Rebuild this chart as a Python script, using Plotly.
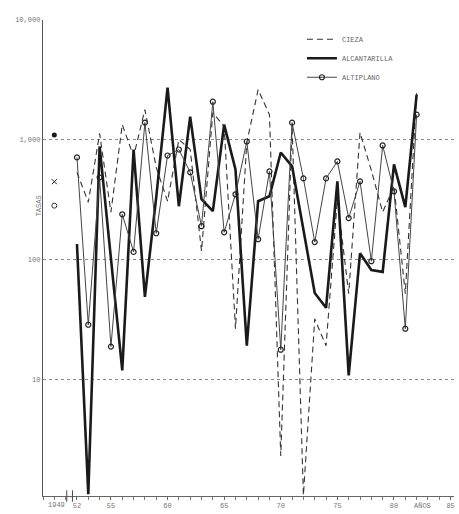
import plotly.graph_objects as go

years = list(range(1952, 1983))

cieza = [535, 301, 1128, 249, 1340, 726, 1786, 589, 307, 1005,
         830, 118, 1687, 1290, 26.5, 950, 2620, 1622, 2.3, 1340,
         1.08, 32, 19.1, 319, 52, 1150, 556, 249, 409, 52, 2472]

alcantarilla = [135, 1.1, 880, 109, 11.9, 830, 48.9, 331, 2720, 279,
                1563, 319, 254, 1340, 566, 19.1, 307, 338, 784, 600,
                180, 52.7, 39.6, 450, 10.8, 113, 82, 79, 623, 274, 2380]

altiplano = [713, 28.6, 486, 18.8, 239, 116, 1393, 166, 740, 830,
             535, 190, 2080, 169, 351, 968, 148, 545, 17.7, 1390,
             476, 140, 476, 660, 222, 450, 97, 897, 372, 26.5, 1622]

# values plotted next to the axis (1949-51 period)
early_year = [1950]
early_cieza = [1096]
early_alcantarilla = [447]
early_altiplano = [282]

x_tickvals = [1952, 1955, 1960, 1965, 1970, 1975, 1980, 1985]
x_ticktext = ["52", "55", "60", "65", "70", "75", "80", "85"]
y_tickvals = [10, 100, 1000, 10000]
y_ticktext = ["10", "100", "1,000", "10,000"]

ink = "#1a1a1a"
grey = "#777777"
font_family = "Liberation Mono, DejaVu Sans Mono, monospace"

fig = go.Figure()

fig.add_trace(go.Scatter(
    x=years, y=cieza, name="CIEZA", mode="lines",
    line=dict(color="#333333", width=1.1, dash="6px,4px"),
))
fig.add_trace(go.Scatter(
    x=years, y=alcantarilla, name="ALCANTARILLA", mode="lines",
    line=dict(color=ink, width=2.6),
))
fig.add_trace(go.Scatter(
    x=years, y=altiplano, name="ALTIPLANO", mode="lines+markers",
    line=dict(color="#444444", width=1),
    marker=dict(symbol="circle-open", size=5, color="#222222", line=dict(width=1.2)),
))

fig.add_trace(go.Scatter(
    x=early_year, y=early_cieza, mode="markers", showlegend=False,
    marker=dict(symbol="circle", size=5, color=ink),
))
fig.add_trace(go.Scatter(
    x=early_year, y=early_alcantarilla, mode="markers", showlegend=False,
    marker=dict(symbol="x-thin", size=5, color=ink, line=dict(width=1, color=ink)),
))
fig.add_trace(go.Scatter(
    x=early_year, y=early_altiplano, mode="markers", showlegend=False,
    marker=dict(symbol="circle-open", size=5, color="#333333", line=dict(width=1)),
))

fig.update_layout(
    width=459, height=514,
    margin=dict(l=43, r=4, t=20, b=16),
    paper_bgcolor="white", plot_bgcolor="white",
    font=dict(family=font_family, size=7, color=grey),
    hovermode=False,
    legend=dict(
        x=0.63, y=0.99, xanchor="left", yanchor="top",
        bgcolor="rgba(0,0,0,0)", font=dict(size=7, color="#666666"),
        tracegroupgap=0, itemwidth=30,
    ),
    xaxis=dict(
        range=[1949, 1985.3], tickvals=x_tickvals, ticktext=x_ticktext,
        showgrid=False, zeroline=False, showline=True, linecolor="#666666",
        linewidth=1, ticks="outside", ticklen=3, tickcolor="#666666",
        minor=dict(dtick=1, tick0=1949, ticks="outside", ticklen=3, tickcolor="#777777"),
        tickfont=dict(size=7, color=grey),
    ),
    yaxis=dict(
        type="log", range=[0.027, 4.0], tickvals=y_tickvals, ticktext=y_ticktext,
        showgrid=True, gridcolor="#8a8a8a", griddash="dot", gridwidth=1,
        zeroline=False, showline=True, linecolor="#555555", linewidth=1.2,
        ticks="", tickfont=dict(size=7, color=grey),
    ),
    annotations=[
        dict(text="TASAS", x=-0.025, y=0.61, xref="paper", yref="paper",
             textangle=-90, showarrow=False, font=dict(size=7, color=grey)),
        dict(text="1949", x=1949, y=0, xref="x", yref="paper", xanchor="left",
             yanchor="top", xshift=3, yshift=-3, showarrow=False,
             font=dict(size=7, color=grey)),
        dict(text="AÑOS", x=1982.5, y=0, xref="x", yref="paper", xanchor="center",
             yanchor="top", yshift=-4, showarrow=False, font=dict(size=7, color=grey)),
    ],
    shapes=[
        dict(type="line", xref="x", yref="paper", x0=1951.1, x1=1951.1, y0=-0.012, y1=0.012,
             line=dict(color="#444444", width=1)),
        dict(type="line", xref="x", yref="paper", x0=1951.6, x1=1951.6, y0=-0.012, y1=0.012,
             line=dict(color="#444444", width=1)),
    ],
)

fig.write_html(
    "out.html",
    config={"displayModeBar": False, "staticPlot": True},
    post_script="document.body.style.margin='0';document.body.style.overflow='hidden';",
)
